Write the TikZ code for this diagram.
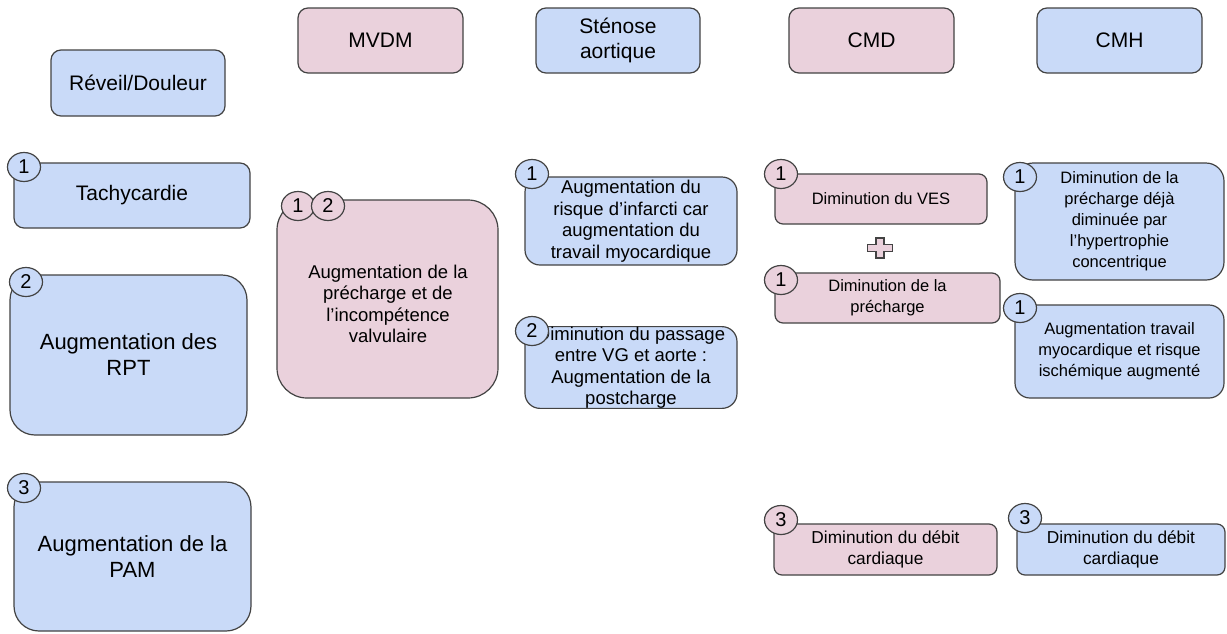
\documentclass[tikz,border=0pt]{standalone}
\usepackage{fontspec}
\setmainfont{Liberation Sans}
\usetikzlibrary{shapes.geometric}
\definecolor{bluefill}{HTML}{C9DAF8}
\definecolor{pinkfill}{HTML}{EAD1DC}
\definecolor{edgecol}{HTML}{434343}
\begin{document}
\begin{tikzpicture}[x=1pt,y=-1pt,
  box/.style={draw=edgecol, line width=1.2pt, rounded corners=#1, align=center, inner sep=0pt},
  bl/.style={fill=bluefill},
  pk/.style={fill=pinkfill},
  hdr/.style={font=\fontsize{21}{24.5}\selectfont},
  big/.style={font=\fontsize{22}{26}\selectfont},
  mid/.style={font=\fontsize{18.5}{21.5}\selectfont},
  sml/.style={font=\fontsize{16.5}{21}\selectfont},
  smlb/.style={font=\fontsize{17.3}{21}\selectfont},
  badge/.style={ellipse, draw=edgecol, line width=1.2pt, minimum width=33pt, minimum height=29pt, inner sep=0pt, font=\fontsize{20}{20}\selectfont},
]
\useasboundingbox (0,0) rectangle (1227,633);
\fill[white] (0,0) rectangle (1227,633);

% headers
\node[box=10pt, bl, hdr, minimum width=174pt, minimum height=66pt] (h1) at (138,83) {Réveil/Douleur};
\node[box=10pt, pk, hdr, minimum width=165pt, minimum height=65pt] (h2) at (380.5,40.5) {MVDM};
\node[box=10pt, bl, hdr, minimum width=164pt, minimum height=65pt] (h3) at (618,40.5) {Sténose\\aortique};
\node[box=10pt, pk, hdr, minimum width=165pt, minimum height=65pt] (h4) at (871.5,40.5) {CMD};
\node[box=10pt, bl, hdr, minimum width=165pt, minimum height=65pt] (h5) at (1119.5,40.5) {CMH};

% left column
\node[box=10pt, bl, font=\fontsize{21}{25}\selectfont, minimum width=236pt, minimum height=65pt] (t1) at (132,195.5) {Tachycardie};
\node[badge, fill=bluefill] (b1) at (24,167) {1};
\node[box=25pt, bl, big, minimum width=237pt, minimum height=160pt] (t2) at (128.5,355) {Augmentation des\\RPT};
\node[badge, fill=bluefill] (b2) at (26,282) {2};
\node[box=25pt, bl, big, minimum width=237pt, minimum height=149pt] (t3) at (132.5,556.5) {Augmentation de la\\PAM};
\node[badge, fill=bluefill] (b3) at (24,488) {3};

% MVDM
\node[box=30pt, pk, minimum width=221pt, minimum height=198pt] (m1) at (387.5,299) {};
\node[mid, align=center, inner sep=0pt] (m1t) at (388,304) {Augmentation de la\\précharge et de\\l’incompétence\\valvulaire};
\node[badge, fill=pinkfill] (mb1) at (298,206) {1};
\node[badge, fill=pinkfill] (mb2) at (328,206) {2};

% Stenose
\node[box=15pt, bl, mid, minimum width=212pt, minimum height=88pt] (s1) at (631,221) {Augmentation du\\risque d’infarcti car\\augmentation du\\travail myocardique};
\node[badge, fill=bluefill] (sb1) at (532,174) {1};
\node[box=15pt, bl, mid, minimum width=212pt, minimum height=75pt] (s2) at (631,367.5) {Diminution du passage\\entre VG et aorte :\\Augmentation de la\\postcharge};
\node[badge, fill=bluefill] (sb2) at (532,331) {2};

% CMD
\node[box=8pt, pk, sml, minimum width=212pt, minimum height=50pt] (c1) at (881,199) {Diminution du VES};
\node[badge, fill=pinkfill] (cb1) at (781,174) {1};
\draw[draw=edgecol, line width=1.2pt, fill=pinkfill]
  (876,238) -- (884,238) -- (884,244.5) -- (892.5,244.5) -- (892.5,251.5) -- (884,251.5)
  -- (884,258) -- (876,258) -- (876,251.5) -- (867.5,251.5) -- (867.5,244.5) -- (876,244.5) -- cycle;
\node[box=8pt, pk, sml, minimum width=225pt, minimum height=50pt] (c2) at (887.5,298) {Diminution de la\\précharge};
\node[badge, fill=pinkfill] (cb2) at (781,280) {1};
\node[box=8pt, pk, smlb, minimum width=223pt, minimum height=51pt] (c3) at (885.5,549.5) {Diminution du débit\\cardiaque};
\node[badge, fill=pinkfill] (cb3) at (781,520) {3};

% CMH
\node[box=18pt, bl, sml, minimum width=209pt, minimum height=117pt] (k1) at (1119.5,221.5) {Diminution de la\\précharge déjà\\diminuée par\\l’hypertrophie\\concentrique};
\node[badge, fill=bluefill] (kb1) at (1020,177) {1};
\node[box=15pt, bl, sml, minimum width=209pt, minimum height=93pt] (k2) at (1119.5,351.5) {Augmentation travail\\myocardique et risque\\ischémique augmenté};
\node[badge, fill=bluefill] (kb2) at (1020,308) {1};
\node[box=8pt, bl, smlb, minimum width=208pt, minimum height=51pt] (k3) at (1121,549.5) {Diminution du débit\\cardiaque};
\node[badge, fill=bluefill] (kb3) at (1025,518) {3};
\end{tikzpicture}
\end{document}
